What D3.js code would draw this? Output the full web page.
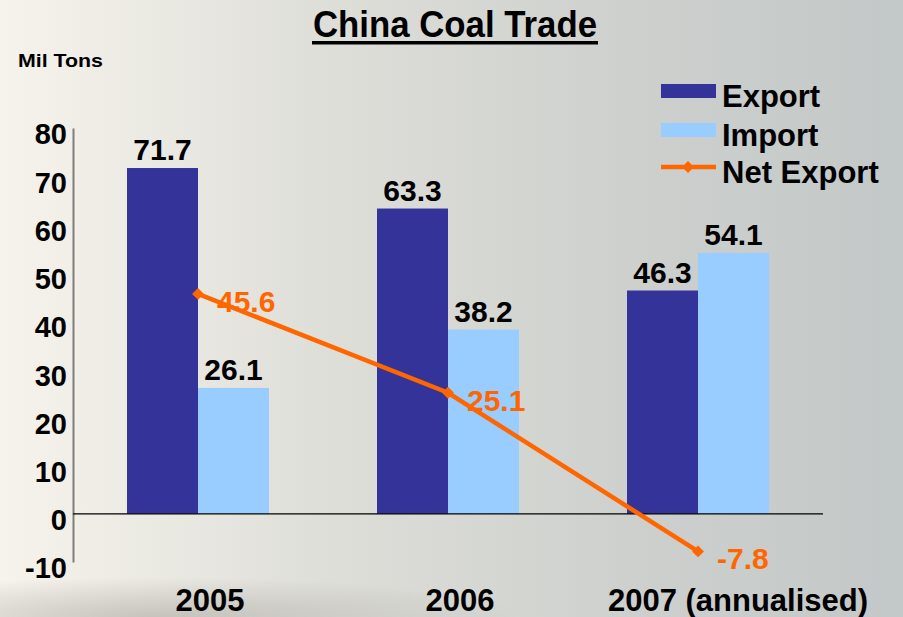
<!DOCTYPE html>
<html><head><meta charset="utf-8">
<script src="https://cdn.jsdelivr.net/npm/d3@7"></script>
<style>
html,body{margin:0;padding:0;overflow:hidden;}
svg{display:block;font-family:"Liberation Sans",Arial,sans-serif;font-weight:bold;}
</style></head>
<body>
<svg id="chart" width="903" height="617"></svg>
<script>
const categories = ["2005", "2006", "2007 (annualised)"];
const exportValues = [71.7, 63.3, 46.3];
const importValues = [26.1, 38.2, 54.1];
const netExportValues = [45.6, 25.1, -7.8];
const yTicks = [-10, 0, 10, 20, 30, 40, 50, 60, 70, 80];
const seriesNames = ["Export", "Import", "Net Export"];
const colors = {Export: "#333399", Import: "#99CCFF", "Net Export": "#FF6600"};

const svg = d3.select("#chart");
const W = 903, H = 617;

// background
const defs = svg.append("defs");
const g1 = defs.append("linearGradient").attr("id", "bg").attr("x1", 0).attr("x2", 1).attr("y1", 0).attr("y2", 0);
g1.append("stop").attr("offset", "0%").attr("stop-color", "#f6f3ec");
g1.append("stop").attr("offset", "35%").attr("stop-color", "#dfdfd9");
g1.append("stop").attr("offset", "70%").attr("stop-color", "#cdd0cd");
g1.append("stop").attr("offset", "100%").attr("stop-color", "#c3c8c8");
svg.append("rect").attr("width", W).attr("height", H).attr("fill", "url(#bg)");
const g2 = defs.append("radialGradient").attr("id", "bot").attr("cx", 0.3).attr("cy", 1).attr("r", 0.7);
g2.append("stop").attr("offset", "0%").attr("stop-color", "#a19c96").attr("stop-opacity", 0.5);
g2.append("stop").attr("offset", "100%").attr("stop-color", "#a19c96").attr("stop-opacity", 0);
svg.append("rect").attr("x", 0).attr("y", 560).attr("width", 520).attr("height", 57).attr("fill", "url(#bot)");

const x0 = d3.scaleBand().domain(categories).range([73, 823]).padding(0);
const barW = 71;
const y = d3.scaleLinear().domain([-10, 80]).range([562, 128]);

// y axis
const yAxis = d3.axisLeft(y).tickValues(yTicks).tickSize(0).tickPadding(6).tickFormat(d => String(d));
const ya = svg.append("g").attr("transform", "translate(73,0)").call(yAxis);
ya.select(".domain").attr("stroke", "#7f7f7f").attr("stroke-width", 2);
ya.selectAll("text").attr("font-size", 29).attr("font-weight", "bold").attr("fill", "#000")
  .attr("font-family", "Liberation Sans, Arial, sans-serif").attr("dy", "0.55em");

// bars
const groups = svg.append("g");
categories.forEach((c, i) => {
  const cx = x0(c) + x0.bandwidth() / 2;
  groups.append("rect").attr("x", cx - barW).attr("y", y(exportValues[i])).attr("width", barW)
    .attr("height", y(0) - y(exportValues[i])).attr("fill", colors.Export);
  groups.append("rect").attr("x", cx).attr("y", y(importValues[i])).attr("width", barW)
    .attr("height", y(0) - y(importValues[i])).attr("fill", colors.Import);
  groups.append("text").attr("x", cx - barW / 2).attr("y", y(exportValues[i]) - 8).attr("text-anchor", "middle")
    .attr("font-size", 30).attr("fill", "#000").text(exportValues[i].toFixed(1));
  groups.append("text").attr("x", cx + barW / 2).attr("y", y(importValues[i]) - 8).attr("text-anchor", "middle")
    .attr("font-size", 30).attr("fill", "#000").text(importValues[i].toFixed(1));
});

// zero line
svg.append("line").attr("x1", 73).attr("x2", 823).attr("y1", y(0)).attr("y2", y(0))
  .attr("stroke", "#000").attr("stroke-width", 1.2);

// x axis labels
const xAxis = d3.axisBottom(x0).tickSize(0).tickPadding(0);
const xa = svg.append("g").attr("transform", "translate(0,611)").call(xAxis);
xa.select(".domain").remove();
xa.selectAll("text").attr("font-size", 31).attr("font-weight", "bold").attr("fill", "#000")
  .attr("font-family", "Liberation Sans, Arial, sans-serif").attr("dy", 0)
  .attr("dx", (d, i) => i === categories.length - 1 ? 40 : 12);

// net export line
const pts = categories.map((c, i) => [x0(c) + x0.bandwidth() / 2, y(netExportValues[i])]);
svg.append("path").attr("d", d3.line()(pts)).attr("fill", "none").attr("stroke", colors["Net Export"]).attr("stroke-width", 4.5);
const diamond = d3.symbol().type(d3.symbolDiamond2).size(90);
svg.selectAll(".pt").data(pts).join("path").attr("transform", d => `translate(${d[0]},${d[1]})`)
  .attr("d", diamond).attr("fill", colors["Net Export"]);
svg.selectAll(".nl").data(pts).join("text").attr("x", d => d[0] + 19).attr("y", d => d[1] + 18)
  .attr("font-size", 30).attr("fill", colors["Net Export"]).text((d, i) => netExportValues[i].toFixed(1));

// title
svg.append("text").attr("x", 455).attr("y", 37).attr("text-anchor", "middle").attr("font-size", 36)
  .attr("textLength", 284).attr("lengthAdjust", "spacingAndGlyphs").attr("fill", "#000").text("China Coal Trade");
svg.append("rect").attr("x", 312).attr("y", 41).attr("width", 286).attr("height", 3.5).attr("fill", "#000");
svg.append("text").attr("x", 18).attr("y", 67).attr("font-size", 19)
  .attr("textLength", 85).attr("lengthAdjust", "spacingAndGlyphs").attr("fill", "#000").text("Mil Tons");

// legend
const lg = svg.append("g");
const legY = [91, 130, 167];
seriesNames.forEach((n, i) => {
  if (i < 2) {
    lg.append("rect").attr("x", 661).attr("y", legY[i] - 7).attr("width", 55).attr("height", 14).attr("fill", colors[n]);
  } else {
    lg.append("line").attr("x1", 661).attr("x2", 716).attr("y1", legY[i]).attr("y2", legY[i])
      .attr("stroke", colors[n]).attr("stroke-width", 4.5);
    lg.append("path").attr("transform", `translate(688,${legY[i]})`).attr("d", diamond).attr("fill", colors[n]);
  }
  lg.append("text").attr("x", 722).attr("y", legY[i] + 16).attr("font-size", 31).attr("fill", "#000").text(n);
});
</script>
</body></html>
